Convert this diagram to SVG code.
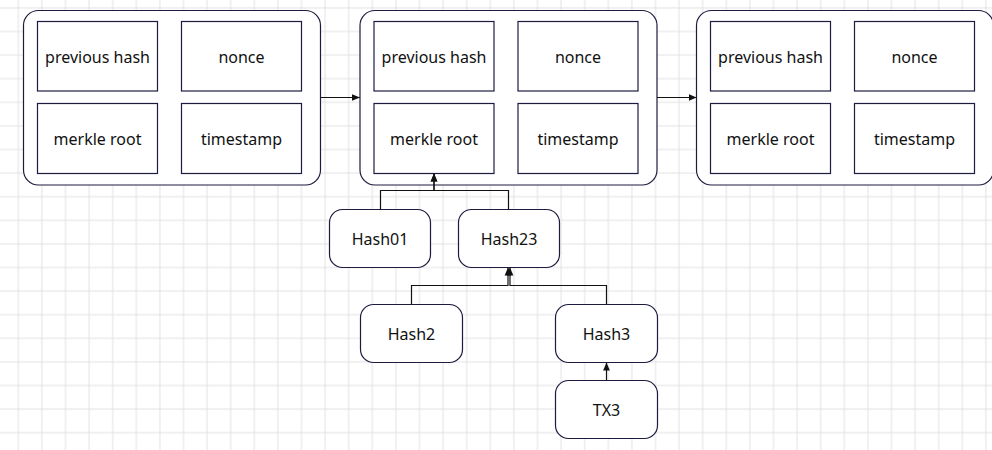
<svg xmlns="http://www.w3.org/2000/svg" width="992" height="450" viewBox="0 0 992 450">
<defs>
<pattern id="grid" patternUnits="userSpaceOnUse" x="6.5" y="-3.9" width="23.6" height="23.6">
<path d="M11.8 0V23.6M0 11.8H23.6" stroke="#e1e1e1" stroke-width="1" fill="none"/>
</pattern>
<marker id="arr" viewBox="0 0 10 10" refX="10" refY="5" markerWidth="8" markerHeight="8" markerUnits="userSpaceOnUse" orient="auto">
<path d="M0 0.8L10 5L0 9.2Z" fill="#111"/>
</marker>
<style>
.blk{fill:#fff;stroke:#1c1c40;stroke-width:1.2}
.cell{fill:#fff;stroke:#1c1c40;stroke-width:1.2}
.nd{fill:#fff;stroke:#1c1c40;stroke-width:1.2}
.t{font-family:"Noto Sans","Liberation Sans",sans-serif;font-size:16px;fill:#111;text-anchor:middle}
.c{fill:none;stroke:#111;stroke-width:1.2}
</style>
</defs>
<rect width="992" height="450" fill="#fff"/>
<rect width="992" height="450" fill="url(#grid)"/>

<g id="block1">
<rect class="blk" x="23.5" y="10.5" width="297" height="174.5" rx="15"/>
<rect class="cell" x="37.5" y="21.5" width="120" height="69.5"/>
<rect class="cell" x="181.5" y="21.5" width="120" height="69.5"/>
<rect class="cell" x="37.5" y="103.5" width="120" height="70"/>
<rect class="cell" x="181.5" y="103.5" width="120" height="70"/>
<text class="t" x="97.5" y="63">previous hash</text>
<text class="t" x="241.5" y="63">nonce</text>
<text class="t" x="97.5" y="145">merkle root</text>
<text class="t" x="241.5" y="145">timestamp</text>
</g>

<g id="block2">
<rect class="blk" x="360" y="10.5" width="297" height="174.5" rx="15"/>
<rect class="cell" x="374" y="21.5" width="120" height="69.5"/>
<rect class="cell" x="518" y="21.5" width="120" height="69.5"/>
<rect class="cell" x="374" y="103.5" width="120" height="70"/>
<rect class="cell" x="518" y="103.5" width="120" height="70"/>
<text class="t" x="434" y="63">previous hash</text>
<text class="t" x="578" y="63">nonce</text>
<text class="t" x="434" y="145">merkle root</text>
<text class="t" x="578" y="145">timestamp</text>
</g>

<g id="block3">
<rect class="blk" x="696.5" y="10.5" width="297" height="174.5" rx="15"/>
<rect class="cell" x="710.5" y="21.5" width="120" height="69.5"/>
<rect class="cell" x="854.5" y="21.5" width="120" height="69.5"/>
<rect class="cell" x="710.5" y="103.5" width="120" height="70"/>
<rect class="cell" x="854.5" y="103.5" width="120" height="70"/>
<text class="t" x="770.5" y="63">previous hash</text>
<text class="t" x="914.5" y="63">nonce</text>
<text class="t" x="770.5" y="145">merkle root</text>
<text class="t" x="914.5" y="145">timestamp</text>
</g>

<g id="hash01">
<rect class="nd" x="329.5" y="209.5" width="101" height="58" rx="13"/>
<text class="t" x="380" y="245">Hash01</text>
</g>
<g id="hash23">
<rect class="nd" x="458.5" y="209.5" width="101" height="58" rx="13"/>
<text class="t" x="509" y="245">Hash23</text>
</g>
<g id="hash2">
<rect class="nd" x="360.5" y="304.5" width="102" height="58" rx="13"/>
<text class="t" x="411.5" y="340">Hash2</text>
</g>
<g id="hash3">
<rect class="nd" x="555.5" y="304.5" width="102" height="58" rx="13"/>
<text class="t" x="606.5" y="340">Hash3</text>
</g>
<g id="tx3">
<rect class="nd" x="555.5" y="380.5" width="102" height="58" rx="13"/>
<text class="t" x="606.5" y="416">TX3</text>
</g>

<g id="connectors">
<path class="c" d="M320.7 97.5H360" marker-end="url(#arr)"/>
<path class="c" d="M657 97.5H696.5" marker-end="url(#arr)"/>
<path class="c" d="M380.5 209.5V190.5H434V173.5" marker-end="url(#arr)"/>
<path class="c" d="M508.5 209.5V190.5H434V173.5" marker-end="url(#arr)"/>
<path class="c" d="M411.5 304.5V285.5H508V267.5" marker-end="url(#arr)"/>
<path class="c" d="M606.5 304.5V285.5H510V267.5" marker-end="url(#arr)"/>
<path class="c" d="M606.5 380.5V362.5" marker-end="url(#arr)"/>
</g>
</svg>
